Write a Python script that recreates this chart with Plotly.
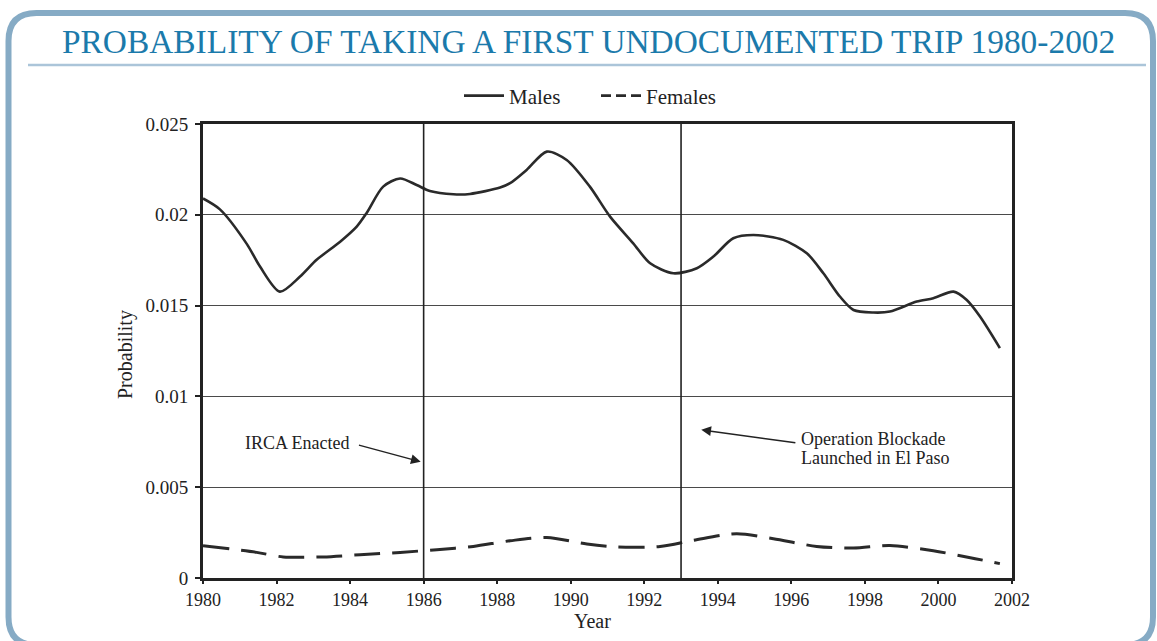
import plotly.graph_objects as go

# ---------------- data ----------------
male_years = [1980.0, 1980.46, 1981.19, 1981.55, 1982.09, 1982.64, 1983.09, 1983.73,
              1984.18, 1984.45, 1984.9, 1985.36, 1985.81, 1986.17, 1986.81, 1987.26,
              1988.08, 1988.35, 1988.8, 1989.35, 1989.89, 1990.52, 1991.07, 1991.7,
              1992.16, 1992.79, 1993.43, 1993.88, 1994.42, 1994.97, 1995.78, 1996.42,
              1996.87, 1997.32, 1997.69, 1998.23, 1998.68, 1999.41, 1999.86, 2000.41,
              2000.77, 2001.13, 2001.67]
male_prob = [0.0209, 0.0203, 0.0184, 0.01715, 0.01577, 0.0166, 0.01752, 0.01852,
             0.01935, 0.0201, 0.02155, 0.0220, 0.02164, 0.02131, 0.02113, 0.02115,
             0.0215, 0.02174, 0.02247, 0.02348, 0.02302, 0.02155, 0.0199, 0.01843,
             0.01733, 0.01678, 0.01706, 0.0177, 0.01871, 0.01889, 0.01862, 0.01788,
             0.01678, 0.0155, 0.01476, 0.01462, 0.01467, 0.01522, 0.01541, 0.01577,
             0.01531, 0.0144, 0.01266]

female_years = [1980.0, 1981.46, 1982.18, 1983.27, 1984.27, 1985.36, 1986.36, 1987.35,
                1988.35, 1989.35, 1990.44, 1991.25, 1992.43, 1993.33, 1994.51, 1995.51,
                1996.69, 1997.69, 1998.68, 1999.86, 2000.59, 2001.67]
female_prob = [0.00178, 0.00141, 0.00116, 0.00116, 0.00128, 0.00141, 0.00156, 0.00174,
               0.00205, 0.00223, 0.00187, 0.00171, 0.00174, 0.00207, 0.00244, 0.00216,
               0.00174, 0.00165, 0.00179, 0.0015, 0.00123, 0.00079]

y_tick_vals = [0, 0.005, 0.01, 0.015, 0.02, 0.025]
y_tick_text = ["0", "0.005", "0.01", "0.015", "0.02", "0.025"]
x_tick_vals = list(range(1980, 2003, 2))

event_years = [1986, 1993]

title_text = "PROBABILITY OF TAKING A FIRST UNDOCUMENTED TRIP 1980-2002"

# ---------------- layout helpers ----------------
W, H = 1157, 641
L, R, T, B = 203, 1012, 124, 578


def pxx(x):
    return (x - L) / (R - L)


def pxy(y):
    return (B - y) / (B - T)


FONT = "Liberation Serif"
INK = "#222222"

fig = go.Figure()

fig.add_trace(go.Scatter(
    x=male_years, y=male_prob, mode="lines", name="Males",
    line=dict(color="#2a2a2a", width=2.6, shape="spline", smoothing=0.8),
    showlegend=True))

fig.add_trace(go.Scatter(
    x=female_years, y=female_prob, mode="lines", name="Females",
    line=dict(color="#2a2a2a", width=3, dash="26px,12px", shape="spline", smoothing=0.8),
    showlegend=False))

# legend-only entry with a finer dash, as in the reference legend
fig.add_trace(go.Scatter(
    x=[None], y=[None], mode="lines", name="Females",
    line=dict(color="#2a2a2a", width=2.6, dash="10px,5px")))

shapes = []
for yr in event_years:
    shapes.append(dict(type="line", xref="x", yref="paper", x0=yr, x1=yr, y0=0, y1=1,
                       line=dict(color=INK, width=1.6), layer="above"))

# outer rounded frame (page pixels -> paper coords)
x0, x1, y0, y1, r = 8.5, 1153, 13, 645, 28
path = (f"M {pxx(x0)},{pxy(y0 + r)} "
        f"Q {pxx(x0)},{pxy(y0)} {pxx(x0 + r)},{pxy(y0)} "
        f"L {pxx(x1 - r)},{pxy(y0)} "
        f"Q {pxx(x1)},{pxy(y0)} {pxx(x1)},{pxy(y0 + r)} "
        f"L {pxx(x1)},{pxy(y1 - r)} "
        f"Q {pxx(x1)},{pxy(y1)} {pxx(x1 - r)},{pxy(y1)} "
        f"L {pxx(x0 + r)},{pxy(y1)} "
        f"Q {pxx(x0)},{pxy(y1)} {pxx(x0)},{pxy(y1 - r)} Z")
shapes.append(dict(type="path", xref="paper", yref="paper", path=path,
                   line=dict(color="#86abc5", width=6), layer="below"))
shapes.append(dict(type="line", xref="paper", yref="paper",
                   x0=pxx(28), x1=pxx(1146), y0=pxy(65), y1=pxy(65),
                   line=dict(color="#abc5d9", width=2.5)))

annotations = [
    dict(text=title_text, xref="paper", yref="paper", x=pxx(588), y=pxy(41),
         xanchor="center", yanchor="middle", showarrow=False,
         font=dict(family=FONT, size=33.4, color="#1b7aab")),
    dict(text="Probability", xref="paper", yref="paper", x=pxx(125), y=pxy(355),
         xanchor="center", yanchor="middle", showarrow=False, textangle=-90,
         font=dict(family=FONT, size=20, color=INK)),
    dict(text="Year", xref="paper", yref="paper", x=pxx(592), y=pxy(621),
         xanchor="center", yanchor="middle", showarrow=False,
         font=dict(family=FONT, size=20, color=INK)),
    dict(text="IRCA Enacted", xref="paper", yref="paper", x=pxx(351), y=pxy(443),
         xanchor="right", yanchor="middle", showarrow=False,
         font=dict(family=FONT, size=18, color=INK)),
    dict(text="", x=event_years[0] - 0.08, y=0.0064, xref="x", yref="y",
         ax=1984.2, ay=0.00734, axref="x", ayref="y", showarrow=True,
         arrowhead=2, arrowsize=1.3, arrowwidth=1.5, arrowcolor=INK),
    dict(text="Operation Blockade", xref="paper", yref="paper", x=pxx(799), y=pxy(439),
         xanchor="left", yanchor="middle", showarrow=False,
         font=dict(family=FONT, size=18, color=INK)),
    dict(text="Launched in El Paso", xref="paper", yref="paper", x=pxx(799), y=pxy(457.5),
         xanchor="left", yanchor="middle", showarrow=False,
         font=dict(family=FONT, size=18, color=INK)),
    dict(text="", x=event_years[1] + 0.55, y=0.00816, xref="x", yref="y",
         ax=1996.15, ay=0.00743, axref="x", ayref="y", showarrow=True,
         arrowhead=2, arrowsize=1.3, arrowwidth=1.5, arrowcolor=INK),
]

fig.update_layout(
    width=W, height=H,
    margin=dict(l=L, r=W - R, t=T, b=H - B, pad=0),
    paper_bgcolor="white", plot_bgcolor="white",
    font=dict(family=FONT, size=18, color=INK),
    showlegend=True,
    legend=dict(orientation="h", x=pxx(459), y=pxy(96), xanchor="left", yanchor="middle",
                font=dict(family=FONT, size=21, color=INK), bgcolor="rgba(0,0,0,0)",
                itemwidth=40, entrywidth=82, tracegroupgap=0),
    xaxis=dict(range=[1980, 2002], tickvals=x_tick_vals, tickformat="d",
               showgrid=False, zeroline=False, showline=True, linecolor=INK, linewidth=3,
               mirror=True, ticks="outside", ticklen=3, tickwidth=2, tickcolor=INK,
               tickfont=dict(family=FONT, size=18, color=INK)),
    yaxis=dict(range=[0, 0.025], tickvals=y_tick_vals, ticktext=y_tick_text,
               showgrid=True, gridcolor="#4a4a4a", gridwidth=1.3, zeroline=False,
               showline=True, linecolor=INK, linewidth=3, mirror=True,
               ticks="outside", ticklen=5, tickwidth=2, tickcolor=INK,
               ticklabelstandoff=3,
               tickfont=dict(family=FONT, size=19, color=INK)),
    shapes=shapes, annotations=annotations,
)

fig.write_html("out.html",
               config={"displayModeBar": False},
               post_script="document.body.style.margin='0';document.body.style.overflow='hidden';")
